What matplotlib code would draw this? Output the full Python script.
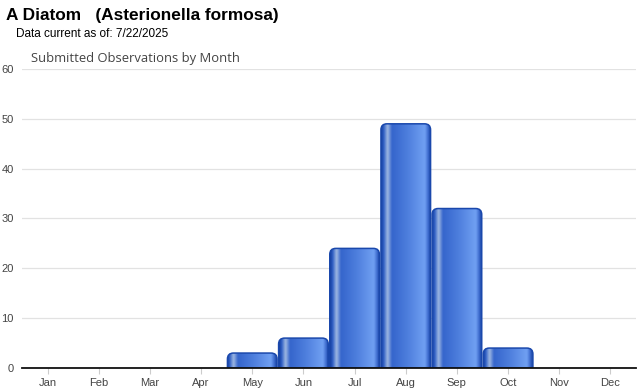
import numpy as np
import matplotlib
matplotlib.use("Agg")
import matplotlib.pyplot as plt
from matplotlib.path import Path
from matplotlib.patches import PathPatch
from matplotlib.colors import LinearSegmentedColormap

months = ["Jan", "Feb", "Mar", "Apr", "May", "Jun", "Jul", "Aug", "Sep", "Oct", "Nov", "Dec"]
observations = [0, 0, 0, 0, 3, 6, 24, 49, 32, 4, 0, 0]
y_ticks = [0, 10, 20, 30, 40, 50, 60]

title = "A Diatom   (Asterionella formosa)"
subtitle = "Data current as of: 7/22/2025"
chart_title = "Submitted Observations by Month"

W, H = 640, 390
fig = plt.figure(figsize=(W / 100, H / 100), dpi=100)
ax_l, ax_r, ax_b, ax_t = 22, 636, 368, 69
ax = fig.add_axes([ax_l / W, 1 - ax_b / H, (ax_r - ax_l) / W, (ax_b - ax_t) / H])
ax.set_xlim(-0.5, len(months) - 0.5)
ax.set_ylim(0, 60)

px_x = (ax_r - ax_l) / len(months)
px_y = (ax_b - ax_t) / 60.0

cmap = LinearSegmentedColormap.from_list("bar", [
    (0.00, "#173f9c"),
    (0.05, "#2c5cc4"),
    (0.13, "#9fb8e2"),
    (0.22, "#3565cc"),
    (0.55, "#4f80de"),
    (0.88, "#70a0f2"),
    (0.95, "#3a68cc"),
    (1.00, "#173f9c"),
])
grad = np.linspace(0, 1, 256).reshape(1, -1)

bw = 0.97
r_px = 6.0
for i, v in enumerate(observations):
    if v <= 0:
        continue
    x0, x1 = i - bw / 2, i + bw / 2
    rx = r_px / px_x
    ry = min(r_px / px_y, v / 2)
    verts = [
        (x0, 0), (x0, v - ry), (x0, v), (x0 + rx, v),
        (x1 - rx, v), (x1, v), (x1, v - ry), (x1, 0), (x0, 0)
    ]
    codes = [Path.MOVETO, Path.LINETO, Path.CURVE3, Path.CURVE3,
             Path.LINETO, Path.CURVE3, Path.CURVE3, Path.LINETO, Path.CLOSEPOLY]
    path = Path(verts, codes)
    im = ax.imshow(grad, extent=[x0, x1, 0, v], aspect="auto", cmap=cmap,
                   interpolation="bicubic", zorder=3)
    patch = PathPatch(path, facecolor="none", edgecolor="none")
    ax.add_patch(patch)
    im.set_clip_path(patch)
    edge = PathPatch(path, facecolor="none", edgecolor="#1a48ac", linewidth=1.1, zorder=4)
    ax.add_patch(edge)

ax.set_xlim(-0.5, len(months) - 0.5)
ax.set_ylim(0, 60)
ax.set_yticks(y_ticks)
ax.set_xticks(range(len(months)))
ax.set_xticklabels(months)
ax.grid(axis="y", color="#e2e2e2", linewidth=0.9, zorder=0)
ax.set_axisbelow(True)
for s in ["top", "right", "left"]:
    ax.spines[s].set_visible(False)
ax.spines["bottom"].set_color("#111111")
ax.spines["bottom"].set_linewidth(1.3)
ax.spines["bottom"].set_zorder(5)
ax.tick_params(axis="y", length=0, pad=6, labelsize=8, labelcolor="#444444")
ax.tick_params(axis="x", length=4, color="#cccccc", pad=3, labelsize=8, labelcolor="#444444")
for lbl in ax.get_xticklabels() + ax.get_yticklabels():
    lbl.set_family("Liberation Sans")

fig.text(6 / W, 1 - 20 / H, title, fontsize=12.4, fontweight="bold",
         family="Liberation Sans", color="#000000", va="baseline", ha="left")
fig.text(16 / W, 1 - 37 / H, subtitle, fontsize=8.5, family="Liberation Sans",
         color="#000000", va="baseline", ha="left")
fig.text(31 / W, 1 - 62 / H, chart_title, fontsize=9.4, family="Open Sans",
         color="#444444", va="baseline", ha="left")

fig.savefig("out.png", dpi=100)
